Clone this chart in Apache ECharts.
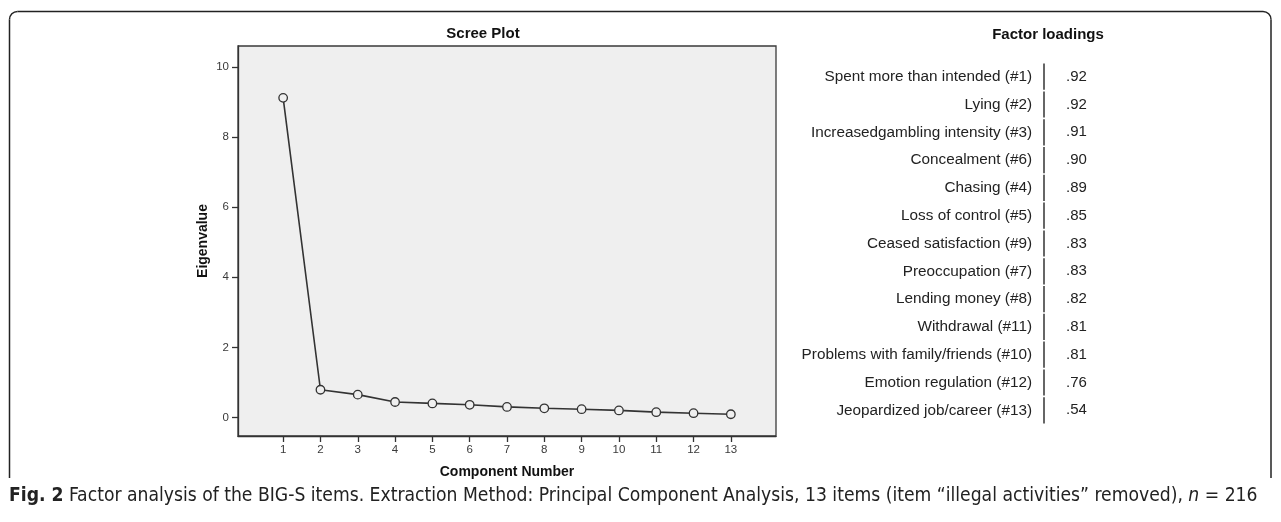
<!DOCTYPE html>
<html>
<head>
<meta charset="utf-8">
<script src="https://cdn.jsdelivr.net/npm/echarts@6/dist/echarts.min.js"></script>
<style>
  html, body { margin: 0; padding: 0; background: #fff; }
  #chart { width: 1281px; height: 522px; }
</style>
</head>
<body>
<div id="chart"></div>
<script>
// Scree plot: eigenvalue per extracted component
const components = [1, 2, 3, 4, 5, 6, 7, 8, 9, 10, 11, 12, 13];
const eigenvalues = [9.12, 0.79, 0.65, 0.44, 0.40, 0.36, 0.30, 0.26, 0.235, 0.20, 0.15, 0.12, 0.09];
const eigenTicks = [0, 2, 4, 6, 8, 10];

// Factor loadings table (items sorted by loading)
const items = [
  'Spent more than intended (#1)',
  'Lying (#2)',
  'Increasedgambling intensity (#3)',
  'Concealment (#6)',
  'Chasing (#4)',
  'Loss of control (#5)',
  'Ceased satisfaction (#9)',
  'Preoccupation (#7)',
  'Lending money (#8)',
  'Withdrawal (#11)',
  'Problems with family/friends (#10)',
  'Emotion regulation (#12)',
  'Jeopardized job/career (#13)'
];
const loadings = [0.92, 0.92, 0.91, 0.90, 0.89, 0.85, 0.83, 0.83, 0.82, 0.81, 0.81, 0.76, 0.54];

const SANS = '"Liberation Sans", Arial, sans-serif';
const NARROW = '"Liberation Sans Narrow", "DejaVu Sans Condensed", "Liberation Sans", sans-serif';
const ink = '#333';

const fmtLoading = v => v.toFixed(2).replace(/^0/, '');

const chart = echarts.init(document.getElementById('chart'), null, { renderer: 'canvas' });

// Figure frame: open at the bottom, rounded top corners
const frameStyle = { stroke: '#222', lineWidth: 1.5, fill: null };
const frame = [
  { type: 'polyline', silent: true, shape: { points: [[9.5, 478], [9.5, 19.5]] }, style: frameStyle },
  { type: 'arc', silent: true, shape: { cx: 17.5, cy: 19.5, r: 8, startAngle: Math.PI, endAngle: Math.PI * 1.5, clockwise: true }, style: frameStyle },
  { type: 'polyline', silent: true, shape: { points: [[17.5, 11.5], [1263, 11.5]] }, style: frameStyle },
  { type: 'arc', silent: true, shape: { cx: 1263, cy: 19.5, r: 8, startAngle: Math.PI * 1.5, endAngle: Math.PI * 2, clockwise: true }, style: frameStyle },
  { type: 'polyline', silent: true, shape: { points: [[1271, 19.5], [1271, 478]] }, style: frameStyle }
];

chart.setOption({
  animation: false,
  backgroundColor: '#fff',
  grid: [
    { left: 238, top: 46, width: 538, height: 390, show: true,
      backgroundColor: '#efefef', borderColor: '#3a3a3a', borderWidth: 1.3 },
    { left: 1044, top: 62.8, width: 60, height: 361.4 }
  ],
  xAxis: [
    {
      gridIndex: 0, type: 'value', min: -0.21, max: 14.21,
      name: 'Component Number', nameLocation: 'middle', nameGap: 29,
      nameTextStyle: { fontFamily: SANS, fontWeight: 'bold', fontSize: 14, color: '#111' },
      axisLine: { show: true, onZero: false, lineStyle: { color: ink, width: 1.3 } },
      axisTick: { show: true, inside: false, customValues: components, length: 6, lineStyle: { color: ink, width: 1.3 } },
      axisLabel: { customValues: components, fontFamily: SANS, fontSize: 11.5, color: '#3a3a3a', margin: 8 },
      splitLine: { show: false }
    },
    { gridIndex: 1, type: 'value', min: 0, max: 1, show: false }
  ],
  yAxis: [
    {
      gridIndex: 0, type: 'value', min: -0.53, max: 10.6,
      name: 'Eigenvalue', nameLocation: 'middle', nameGap: 28,
      nameTextStyle: { fontFamily: SANS, fontWeight: 'bold', fontSize: 14, color: '#111' },
      axisLine: { show: true, onZero: false, lineStyle: { color: ink, width: 1.3 } },
      axisTick: { show: true, inside: false, customValues: eigenTicks, length: 6, lineStyle: { color: ink, width: 1.3 } },
      axisLabel: { customValues: eigenTicks, fontFamily: SANS, fontSize: 11.5, color: '#3a3a3a', margin: 9 },
      splitLine: { show: false }
    },
    {
      gridIndex: 1, type: 'category', data: items, inverse: true,
      axisLine: { show: false }, axisTick: { show: false }, splitLine: { show: false },
      axisLabel: { fontFamily: SANS, fontSize: 15.3, color: '#222', margin: 12 }
    }
  ],
  series: [
    {
      type: 'line', xAxisIndex: 0, yAxisIndex: 0,
      data: components.map((c, i) => [c, eigenvalues[i]]),
      symbol: 'circle', symbolSize: 8.5, showAllSymbol: true,
      lineStyle: { color: ink, width: 1.6 },
      itemStyle: { color: '#efefef', borderColor: ink, borderWidth: 1.3 },
      z: 3
    },
    {
      type: 'custom', xAxisIndex: 1, yAxisIndex: 1,
      data: loadings.map((v, i) => [0, i, v]),
      encode: { x: 0, y: 1 },
      renderItem: function (params, api) {
        const i = params.dataIndex;
        const p = api.coord([0, i]);
        const band = api.size([0, 1])[1];
        return {
          type: 'group',
          children: [
            { type: 'line',
              shape: { x1: p[0], y1: p[1] - band / 2 + 0.8, x2: p[0], y2: p[1] + band / 2 - 0.8 },
              style: { stroke: ink, lineWidth: 1.5 } },
            { type: 'text', x: p[0] + 22, y: p[1],
              style: { text: fmtLoading(loadings[i]), font: '15px ' + SANS, fill: '#222',
                       align: 'left', verticalAlign: 'middle' } }
          ]
        };
      }
    }
  ],
  graphic: frame.concat([
    { type: 'text', x: 483, y: 34,
      style: { text: 'Scree Plot', font: 'bold 15px ' + SANS, fill: '#111', align: 'center', verticalAlign: 'middle' } },
    { type: 'text', x: 1048, y: 35,
      style: { text: 'Factor loadings', font: 'bold 15px ' + SANS, fill: '#111', align: 'center', verticalAlign: 'middle' } },
    { type: 'text', x: 9, y: 496,
      style: {
        text: '{b|Fig. 2} Factor analysis of the BIG-S items. Extraction Method: Principal Component Analysis, 13 items (item \u201cillegal activities\u201d removed), {i|n} = 216',
        font: '19.15px ' + NARROW, fill: '#222', align: 'left', verticalAlign: 'middle',
        rich: {
          b: { fontFamily: NARROW, fontSize: 19.15, fontWeight: 'bold', fill: '#222' },
          i: { fontFamily: NARROW, fontSize: 19.15, fontStyle: 'italic', fill: '#222' }
        }
      } }
  ])
});
</script>
</body>
</html>
